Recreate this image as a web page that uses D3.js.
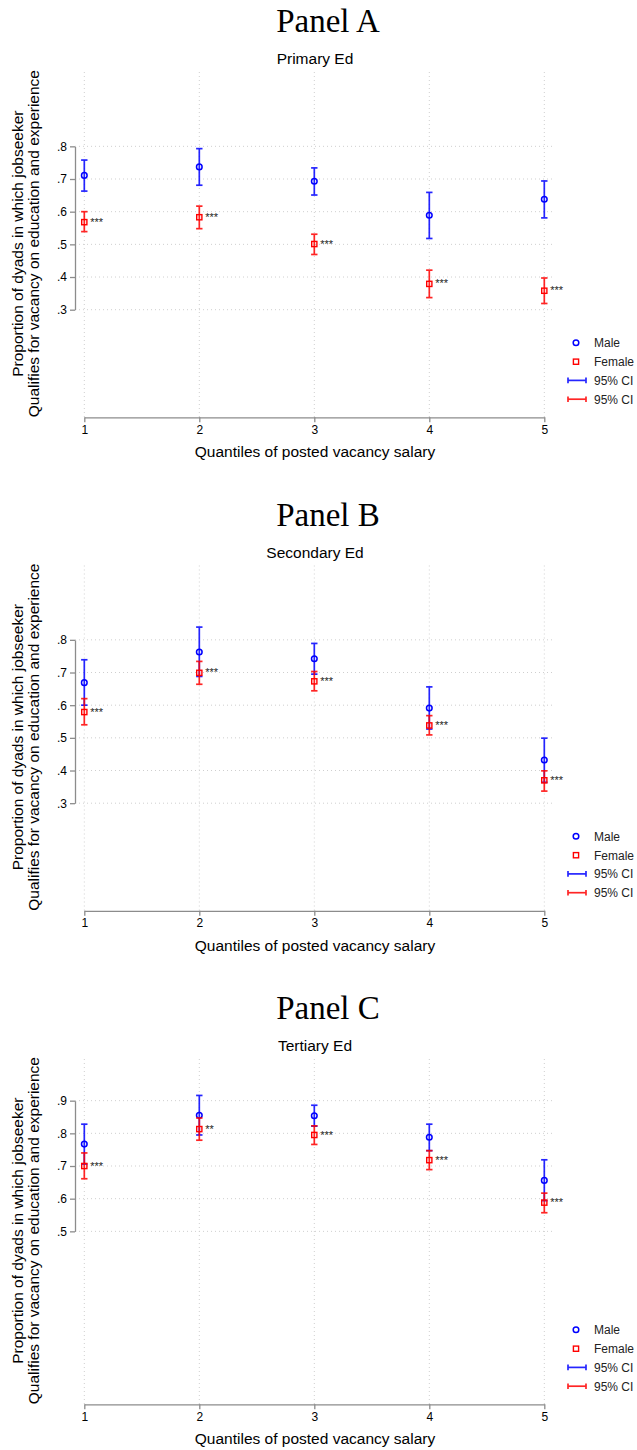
<!DOCTYPE html>
<html lang="en">
<head>
<meta charset="UTF-8">
<title>Qualifies for vacancy by salary quantile</title>
<style>
    body { margin: 0; background: #fff; }
    svg { display: block; font-family: "Liberation Sans", Arial, sans-serif; }
</style>
</head>
<body>
<svg width="637" height="1450"></svg>
<script src="https://cdnjs.cloudflare.com/ajax/libs/d3/7.8.5/d3.min.js"></script>
<script>
// data
const quantiles = [1, 2, 3, 4, 5];
const panelTitles = ["Panel A", "Panel B", "Panel C"];
const subTitles = ["Primary Ed", "Secondary Ed", "Tertiary Ed"];
const yTicks = [
    [0.3, 0.4, 0.5, 0.6, 0.7, 0.8],
    [0.3, 0.4, 0.5, 0.6, 0.7, 0.8],
    [0.5, 0.6, 0.7, 0.8, 0.9]
];
const maleMean = [
    [0.711, 0.737, 0.693, 0.589, 0.638],
    [0.669, 0.763, 0.742, 0.591, 0.432],
    [0.767, 0.855, 0.854, 0.788, 0.656]
];
const maleLow = [
    [0.663, 0.681, 0.651, 0.518, 0.581],
    [0.600, 0.688, 0.695, 0.527, 0.364],
    [0.706, 0.795, 0.822, 0.747, 0.594]
];
const maleHigh = [
    [0.758, 0.793, 0.734, 0.659, 0.694],
    [0.739, 0.839, 0.789, 0.656, 0.499],
    [0.828, 0.916, 0.886, 0.828, 0.719]
];
const femMean = [
    [0.568, 0.583, 0.501, 0.379, 0.358],
    [0.579, 0.699, 0.673, 0.538, 0.370],
    [0.700, 0.813, 0.795, 0.718, 0.588]
];
const femLow = [
    [0.539, 0.548, 0.469, 0.337, 0.319],
    [0.540, 0.664, 0.644, 0.509, 0.337],
    [0.661, 0.779, 0.766, 0.689, 0.557]
];
const femHigh = [
    [0.600, 0.617, 0.531, 0.421, 0.397],
    [0.620, 0.734, 0.703, 0.568, 0.399],
    [0.740, 0.847, 0.823, 0.747, 0.617]
];
const stars = [
    ["***", "***", "***", "***", "***"],
    ["***", "***", "***", "***", "***"],
    ["***", "**", "***", "***", "***"]
];
const legendLabels = ["Male", "Female", "95% CI", "95% CI"];

const svg = d3.select("svg");
const panelStep = 493.5;
const plotTop = 72, plotBottom = 417.3, plotLeft = 75, plotRight = 553;
const blue = "#0000ff", red = "#ff0000";

const x = d3.scaleLinear().domain([1, 5]).range([84.3, 544.3]);
const y = d3.scaleLinear().domain([0, 1]).range([407.7, 81]);

panelTitles.forEach((title, p) => {
    const g = svg.append("g").attr("transform", "translate(0," + p * panelStep + ")");

    g.append("text")
        .attr("x", 328).attr("y", 32)
        .attr("text-anchor", "middle")
        .style("font-family", "'Liberation Serif', 'DejaVu Serif', serif")
        .style("font-size", "33px")
        .text(title);

    g.append("text")
        .attr("x", 315).attr("y", 64)
        .attr("text-anchor", "middle")
        .style("font-size", "15.5px")
        .text(subTitles[p]);

    // grid
    g.selectAll(".hgrid").data(yTicks[p]).enter().append("line")
        .attr("x1", plotLeft).attr("x2", plotRight)
        .attr("y1", d => y(d)).attr("y2", d => y(d))
        .attr("stroke", "#cfcfcf").attr("stroke-width", 1)
        .attr("stroke-dasharray", "1,3");
    g.selectAll(".vgrid").data(quantiles).enter().append("line")
        .attr("x1", d => x(d)).attr("x2", d => x(d))
        .attr("y1", plotTop).attr("y2", plotBottom)
        .attr("stroke", "#cfcfcf").attr("stroke-width", 1)
        .attr("stroke-dasharray", "1,3");

    // y axis only over the tick range
    const ticks = yTicks[p];
    const yAxisScale = y.copy()
        .domain([ticks[0], ticks[ticks.length - 1]])
        .range([y(ticks[0]), y(ticks[ticks.length - 1])]);
    const yAxis = g.append("g")
        .attr("transform", "translate(" + plotLeft + ",0)")
        .call(d3.axisLeft(yAxisScale).tickValues(ticks).tickSizeInner(5).tickSizeOuter(0).tickPadding(3)
            .tickFormat(d => d3.format(".1f")(d).replace(/^0/, "")));

    const xAxis = g.append("g")
        .attr("transform", "translate(0," + plotBottom + ")")
        .call(d3.axisBottom(x).tickValues(quantiles).tickSizeInner(5).tickSizeOuter(0).tickPadding(3)
            .tickFormat(d3.format("d")));

    [yAxis, xAxis].forEach(a => {
        a.select(".domain").attr("stroke", "#8c8c8c").attr("stroke-width", 1.3);
        a.selectAll(".tick line").attr("stroke", "#8c8c8c").attr("stroke-width", 1.3);
        a.selectAll(".tick text").style("font-size", "12px").attr("fill", "#000")
            .style("font-family", "'Liberation Sans', Arial, sans-serif");
    });

    g.append("text")
        .attr("x", 315).attr("y", 457)
        .attr("text-anchor", "middle")
        .style("font-size", "15.5px")
        .text("Quantiles of posted vacancy salary");

    const midY = (plotTop + plotBottom) / 2 - 1;
    g.append("text")
        .attr("transform", "translate(23," + midY + ") rotate(-90)")
        .attr("text-anchor", "middle")
        .style("font-size", "15.5px")
        .text("Proportion of dyads in which jobseeker");
    g.append("text")
        .attr("transform", "translate(39," + midY + ") rotate(-90)")
        .attr("text-anchor", "middle")
        .style("font-size", "15.5px")
        .text("Qualifies for vacancy on education and experience");

    // series
    const rows = quantiles.map((q, i) => ({
        q: q,
        m: maleMean[p][i], mlo: maleLow[p][i], mhi: maleHigh[p][i],
        f: femMean[p][i], flo: femLow[p][i], fhi: femHigh[p][i],
        s: stars[p][i]
    }));

    function drawCI(sel, lo, hi, color, op) {
        const c = sel.append("g").attr("stroke", color).attr("stroke-width", 1.7)
            .attr("opacity", op).attr("fill", "none");
        c.append("line").attr("x1", d => x(d.q)).attr("x2", d => x(d.q))
            .attr("y1", d => y(d[lo])).attr("y2", d => y(d[hi]));
        c.append("line").attr("x1", d => x(d.q) - 3.2).attr("x2", d => x(d.q) + 3.2)
            .attr("y1", d => y(d[lo])).attr("y2", d => y(d[lo]));
        c.append("line").attr("x1", d => x(d.q) - 3.2).attr("x2", d => x(d.q) + 3.2)
            .attr("y1", d => y(d[hi])).attr("y2", d => y(d[hi]));
    }

    const pts = g.selectAll(".pt").data(rows).enter().append("g");
    drawCI(pts, "mlo", "mhi", blue, 0.85);
    pts.append("circle")
        .attr("cx", d => x(d.q)).attr("cy", d => y(d.m)).attr("r", 2.8)
        .attr("fill", "none").attr("stroke", blue).attr("stroke-width", 1.5);

    const fpts = g.selectAll(".fpt").data(rows).enter().append("g");
    drawCI(fpts, "flo", "fhi", red, 0.85);
    fpts.append("rect")
        .attr("x", d => x(d.q) - 2.6).attr("y", d => y(d.f) - 2.6)
        .attr("width", 5.2).attr("height", 5.2)
        .attr("fill", "none").attr("stroke", red).attr("stroke-width", 1.4);
    fpts.append("text")
        .attr("x", d => x(d.q) + 6).attr("y", d => y(d.f) + 3.6)
        .style("font-size", "11px").attr("fill", "#222")
        .text(d => d.s);

    // legend
    const lg = g.append("g");
    const ly = [342.7, 361.7, 380.4, 399.2];
    lg.append("circle").attr("cx", 576).attr("cy", ly[0]).attr("r", 2.8)
        .attr("fill", "none").attr("stroke", blue).attr("stroke-width", 1.5);
    lg.append("rect").attr("x", 573.4).attr("y", ly[1] - 2.6).attr("width", 5.2).attr("height", 5.2)
        .attr("fill", "none").attr("stroke", red).attr("stroke-width", 1.4);
    [[ly[2], blue], [ly[3], red]].forEach(([yy, col]) => {
        const c = lg.append("g").attr("stroke", col).attr("stroke-width", 1.7).attr("opacity", 0.85);
        c.append("line").attr("x1", 568).attr("x2", 586).attr("y1", yy).attr("y2", yy);
        c.append("line").attr("x1", 568).attr("x2", 568).attr("y1", yy - 2.8).attr("y2", yy + 2.8);
        c.append("line").attr("x1", 586).attr("x2", 586).attr("y1", yy - 2.8).attr("y2", yy + 2.8);
    });
    lg.selectAll(".ltxt").data(legendLabels).enter().append("text")
        .attr("x", 594).attr("y", (d, i) => ly[i] + 4.3)
        .style("font-size", "12px").attr("fill", "#222")
        .text(d => d);
});
</script>
</body>
</html>
